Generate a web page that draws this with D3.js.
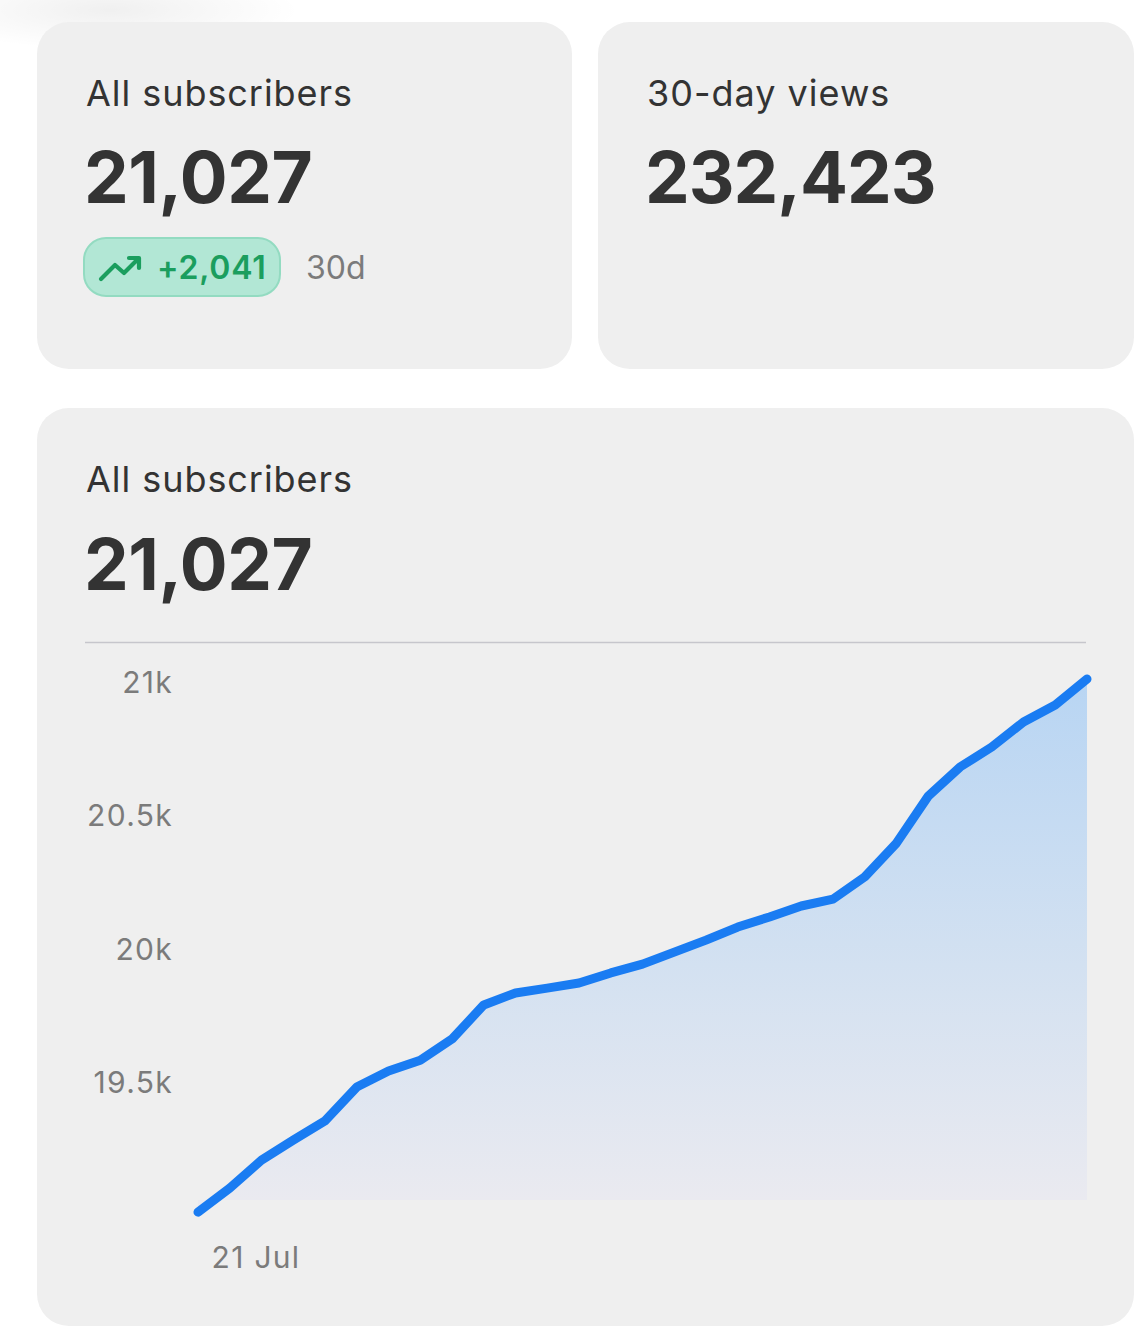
<!DOCTYPE html>
<html><head><meta charset="utf-8">
<script src="https://cdn.jsdelivr.net/npm/d3@7"></script>
<style>
html,body{margin:0;padding:0;background:#fff;}
svg{display:block;}
text{font-family:Inter,"Noto Sans",sans-serif;}
</style></head>
<body>
<svg id="c" width="1144" height="1343"></svg>
<script>
// ---- data ----
const dates = ["19 Jul","20 Jul","21 Jul","22 Jul","23 Jul","24 Jul","25 Jul","26 Jul","27 Jul","28 Jul","29 Jul","30 Jul","31 Jul","1 Aug","2 Aug","3 Aug","4 Aug","5 Aug","6 Aug","7 Aug","8 Aug","9 Aug","10 Aug","11 Aug","12 Aug","13 Aug","14 Aug","15 Aug","16 Aug"];
const subscribers = [19012,19102,19207,19282,19354,19481,19541,19582,19661,19789,19834,19852,19871,19909,19942,19987,20032,20081,20119,20160,20186,20269,20396,20572,20681,20756,20850,20914,21011];
const yTicks = [19500,20000,20500,21000];
const yTickLabels = ["19.5k","20k","20.5k","21k"];
const xTicks = ["21 Jul"];
const totalSubs = "21,027";
const change30d = "+2,041";
const views30d = "232,423";

const svg = d3.select("#c");
const defs = svg.append("defs");

// faint top-left shadow
const rg = defs.append("radialGradient").attr("id","sh");
rg.append("stop").attr("offset","0%").attr("stop-color","#000").attr("stop-opacity",0.06);
rg.append("stop").attr("offset","100%").attr("stop-color","#000").attr("stop-opacity",0);
svg.append("ellipse").attr("cx",110).attr("cy",10).attr("rx",190).attr("ry",40).attr("fill","url(#sh)");

const cardFill = "#efefef";
// cards
svg.append("rect").attr("x",37).attr("y",22).attr("width",535).attr("height",347).attr("rx",32).attr("fill",cardFill);
svg.append("rect").attr("x",598).attr("y",22).attr("width",536).attr("height",347).attr("rx",32).attr("fill",cardFill);
svg.append("rect").attr("x",37).attr("y",408).attr("width",1097).attr("height",918).attr("rx",32).attr("fill",cardFill);

const dark = "#333333", gray = "#7b7b7b";

// card 1
svg.append("text").attr("x",86).attr("y",106).attr("font-size",36).attr("letter-spacing",0.95).attr("fill",dark).text("All subscribers");
svg.append("text").attr("x",84).attr("y",203).attr("font-size",71).attr("font-weight",700).attr("fill",dark).attr("letter-spacing",-0.4).text(totalSubs);
svg.append("rect").attr("x",84).attr("y",238).attr("width",196).attr("height",58).attr("rx",22)
  .attr("fill","#b2e7d5").attr("stroke","#93dbc1").attr("stroke-width",2);
svg.append("path").attr("d","M101,279 L115,265 L124,273 L138,259 M129,258 L139,258 L139,268")
  .attr("fill","none").attr("stroke","#1b9e5e").attr("stroke-width",4.2).attr("stroke-linecap","round").attr("stroke-linejoin","round");
svg.append("text").attr("x",157).attr("y",279).attr("font-size",32).attr("font-weight",600).attr("letter-spacing",0.8).attr("fill","#1b9e5e").text(change30d);
svg.append("text").attr("x",306).attr("y",279).attr("font-size",32).attr("fill",gray).text("30d");

// card 2
svg.append("text").attr("x",647).attr("y",106).attr("font-size",36).attr("letter-spacing",1).attr("fill",dark).text("30-day views");
svg.append("text").attr("x",645).attr("y",203).attr("font-size",71).attr("font-weight",700).attr("fill",dark).attr("letter-spacing",-1).text(views30d);

// card 3 header
svg.append("text").attr("x",86).attr("y",492).attr("font-size",36).attr("letter-spacing",0.95).attr("fill",dark).text("All subscribers");
svg.append("text").attr("x",84).attr("y",590).attr("font-size",71).attr("font-weight",700).attr("fill",dark).attr("letter-spacing",-0.4).text(totalSubs);
svg.append("line").attr("x1",85).attr("x2",1086).attr("y1",642.5).attr("y2",642.5).attr("stroke","#c6c6cc").attr("stroke-width",1.5);

// scales
const x = d3.scalePoint().domain(dates).range([198,1087]);
const y = d3.scaleLinear().domain([19500,21000]).range([1082,682]);
const plotBottom = 1200;

// gradient
const lg = defs.append("linearGradient").attr("id","ag").attr("gradientUnits","userSpaceOnUse")
  .attr("x1",0).attr("x2",0).attr("y1",y(21011)).attr("y2",plotBottom);
lg.append("stop").attr("offset","0%").attr("stop-color","#b8d5f3");
lg.append("stop").attr("offset","55%").attr("stop-color","#d3e1f1");
lg.append("stop").attr("offset","100%").attr("stop-color","#eaeaf0");

const pts = dates.map((d,i)=>({d, v:subscribers[i]}));
const area = d3.area().x(p=>x(p.d)).y0(plotBottom).y1(p=>y(p.v));
const line = d3.line().x(p=>x(p.d)).y(p=>y(p.v));
svg.append("path").datum(pts).attr("d",area).attr("fill","url(#ag)");
svg.append("path").datum(pts).attr("d",line).attr("fill","none").attr("stroke","#1a7cf2")
  .attr("stroke-width",9).attr("stroke-linecap","round").attr("stroke-linejoin","round");

// y axis labels
const yAxis = d3.axisLeft(y).tickValues(yTicks).tickFormat((d,i)=>yTickLabels[i]).tickSize(0).tickPadding(0);
const ga = svg.append("g").attr("transform","translate(173,0)").call(yAxis);
ga.select(".domain").remove();
ga.selectAll("text").attr("font-size",30).attr("fill",gray).attr("letter-spacing",1.3).attr("font-family","Inter,'Noto Sans',sans-serif").attr("dy","0.35em");

// x axis labels
const xAxis = d3.axisBottom(x).tickValues(xTicks).tickSize(0).tickPadding(0);
const gx = svg.append("g").attr("transform","translate(-6,1268)").call(xAxis);
gx.select(".domain").remove();
gx.selectAll("text").attr("font-size",30).attr("fill",gray).attr("letter-spacing",1.3).attr("font-family","Inter,'Noto Sans',sans-serif").attr("dy",0);
</script>
</body></html>
